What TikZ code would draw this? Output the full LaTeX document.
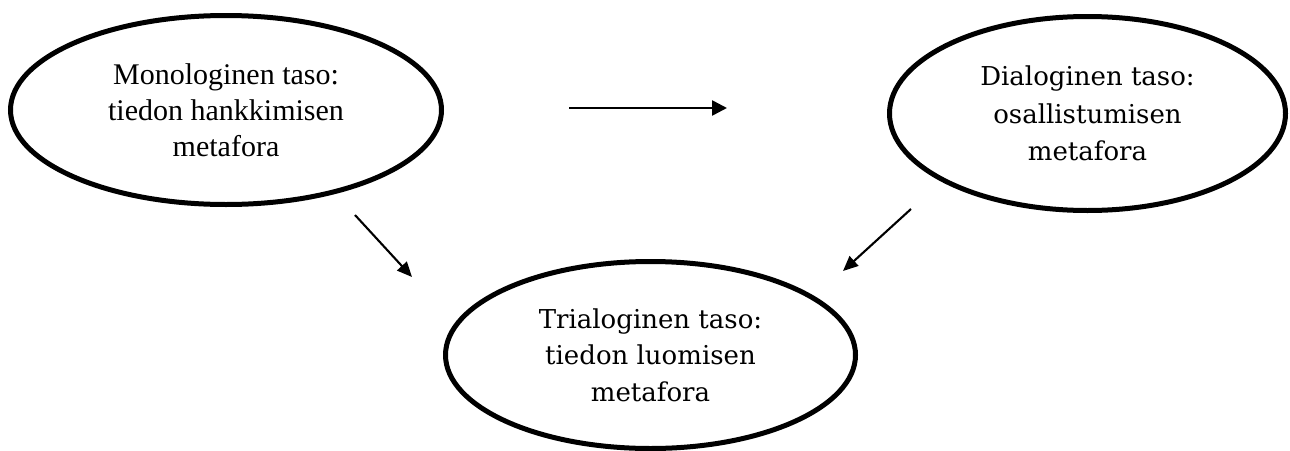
\documentclass[tikz,border=0pt]{standalone}
\usepackage{fontspec}
\setmainfont{Liberation Serif}
\newfontfamily\cambriaish{DejaVu Serif}
\usetikzlibrary{shapes.geometric,arrows.meta}

\tikzset{
  level/.style={ellipse, draw=black, line width=5pt, inner sep=0pt,
    align=center, text=black},
  flow/.style={draw=black, line width=2.6pt,
    -{Triangle[length=15pt,width=15pt]}},
  drop/.style={draw=black, line width=2.1pt,
    -{Triangle[length=15pt,width=13pt]}}
}

\begin{document}
\begin{tikzpicture}[x=1pt,y=-1pt]
  \useasboundingbox (0,0) rectangle (1290,450);

  % the three levels
  \node[level, minimum width=431pt, minimum height=189pt,
        font=\fontsize{30}{36}\selectfont]
    (mono) at (226,110) {Monologinen taso:\\tiedon hankkimisen\\metafora};
  \node[level, minimum width=396pt, minimum height=194pt,
        font=\cambriaish\fontsize{26}{37.5}\selectfont]
    (dia) at (1087.5,113.5) {Dialoginen taso:\\osallistumisen\\metafora};
  \node[level, minimum width=410pt, minimum height=187pt,
        font=\cambriaish\fontsize{26}{36.5}\selectfont]
    (tri) at (650.5,355) {Trialoginen taso:\\tiedon luomisen\\metafora};

  % free ends of the connectors
  \coordinate (md-start) at (569,108);
  \coordinate (md-end)   at (727,108);
  \coordinate (mt-start) at (355,215);
  \coordinate (mt-end)   at (412,277);
  \coordinate (dt-start) at (911,209);
  \coordinate (dt-end)   at (843,271);

  \draw[flow] (md-start) -- (md-end);
  \draw[drop] (mt-start) -- (mt-end);
  \draw[drop] (dt-start) -- (dt-end);
\end{tikzpicture}
\end{document}
